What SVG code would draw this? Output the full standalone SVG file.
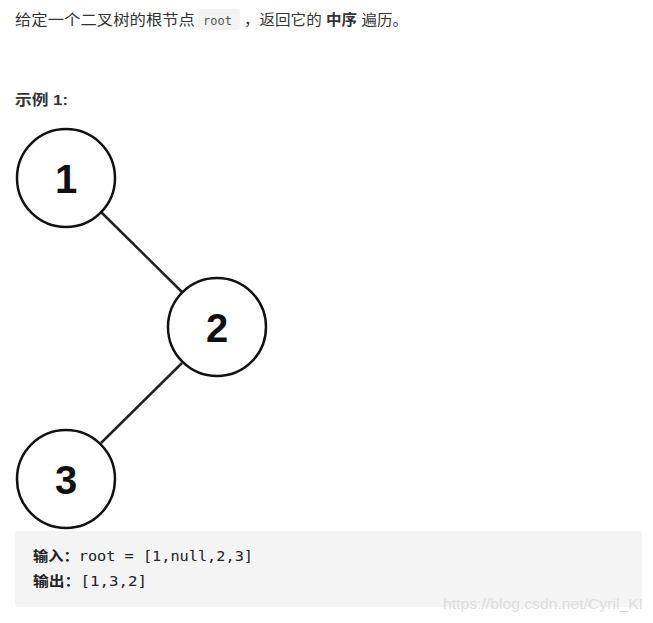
<svg xmlns="http://www.w3.org/2000/svg" width="653" height="623" viewBox="0 0 653 623">
<style>
.t{font-family:"Liberation Sans","Noto Sans CJK SC",sans-serif;font-size:15px;fill:#333}
.m{font-family:"DejaVu Sans Mono","Noto Sans CJK SC",monospace;font-size:14px;fill:#222}
.n circle{fill:#fff;stroke:#111;stroke-width:2.5}
.n text{font-family:"Liberation Sans",sans-serif;font-weight:bold;font-size:40px;text-anchor:middle;fill:#111}
</style>
<rect width="653" height="623" fill="#fff"/>
<g id="header">
<text class="t" x="15" y="25" textLength="180" lengthAdjust="spacingAndGlyphs">给定一个二叉树的根节点</text>
<rect x="198" y="9" width="42" height="21" rx="3" fill="#f3f3f3"/>
<text class="m" x="203" y="25" style="fill:#555;font-size:12px">root</text>
<text class="t" x="244" y="25" textLength="164" lengthAdjust="spacingAndGlyphs">，返回它的 <tspan font-weight="bold">中序</tspan> 遍历。</text>
<text class="t" x="15" y="105" font-weight="bold" textLength="53" lengthAdjust="spacingAndGlyphs">示例 1:</text>
</g>
<g id="connectors" stroke="#222" stroke-width="2.5">
<line x1="101" y1="212" x2="182" y2="292"/>
<line x1="182" y1="363" x2="101" y2="443"/>
</g>
<g id="node1" class="n"><circle cx="66" cy="178" r="49"/><text x="66" y="193">1</text></g>
<g id="node2" class="n"><circle cx="217" cy="327" r="49"/><text x="217" y="342">2</text></g>
<g id="node3" class="n"><circle cx="66" cy="479" r="49"/><text x="66" y="494">3</text></g>
<g id="example">
<rect x="15" y="531" width="627" height="76" rx="4" fill="#f4f4f4"/>
<text class="m" x="33" y="561" textLength="220" lengthAdjust="spacingAndGlyphs"><tspan font-weight="bold">输入：</tspan>root = [1,null,2,3]</text>
<text class="m" x="33" y="586" textLength="114" lengthAdjust="spacingAndGlyphs"><tspan font-weight="bold">输出：</tspan>[1,3,2]</text>
<text x="643" y="609" text-anchor="end" font-family="Liberation Sans,sans-serif" font-size="15" fill="#ddd" textLength="200" lengthAdjust="spacingAndGlyphs">https://blog.csdn.net/Cyril_KI</text>
</g>
</svg>
